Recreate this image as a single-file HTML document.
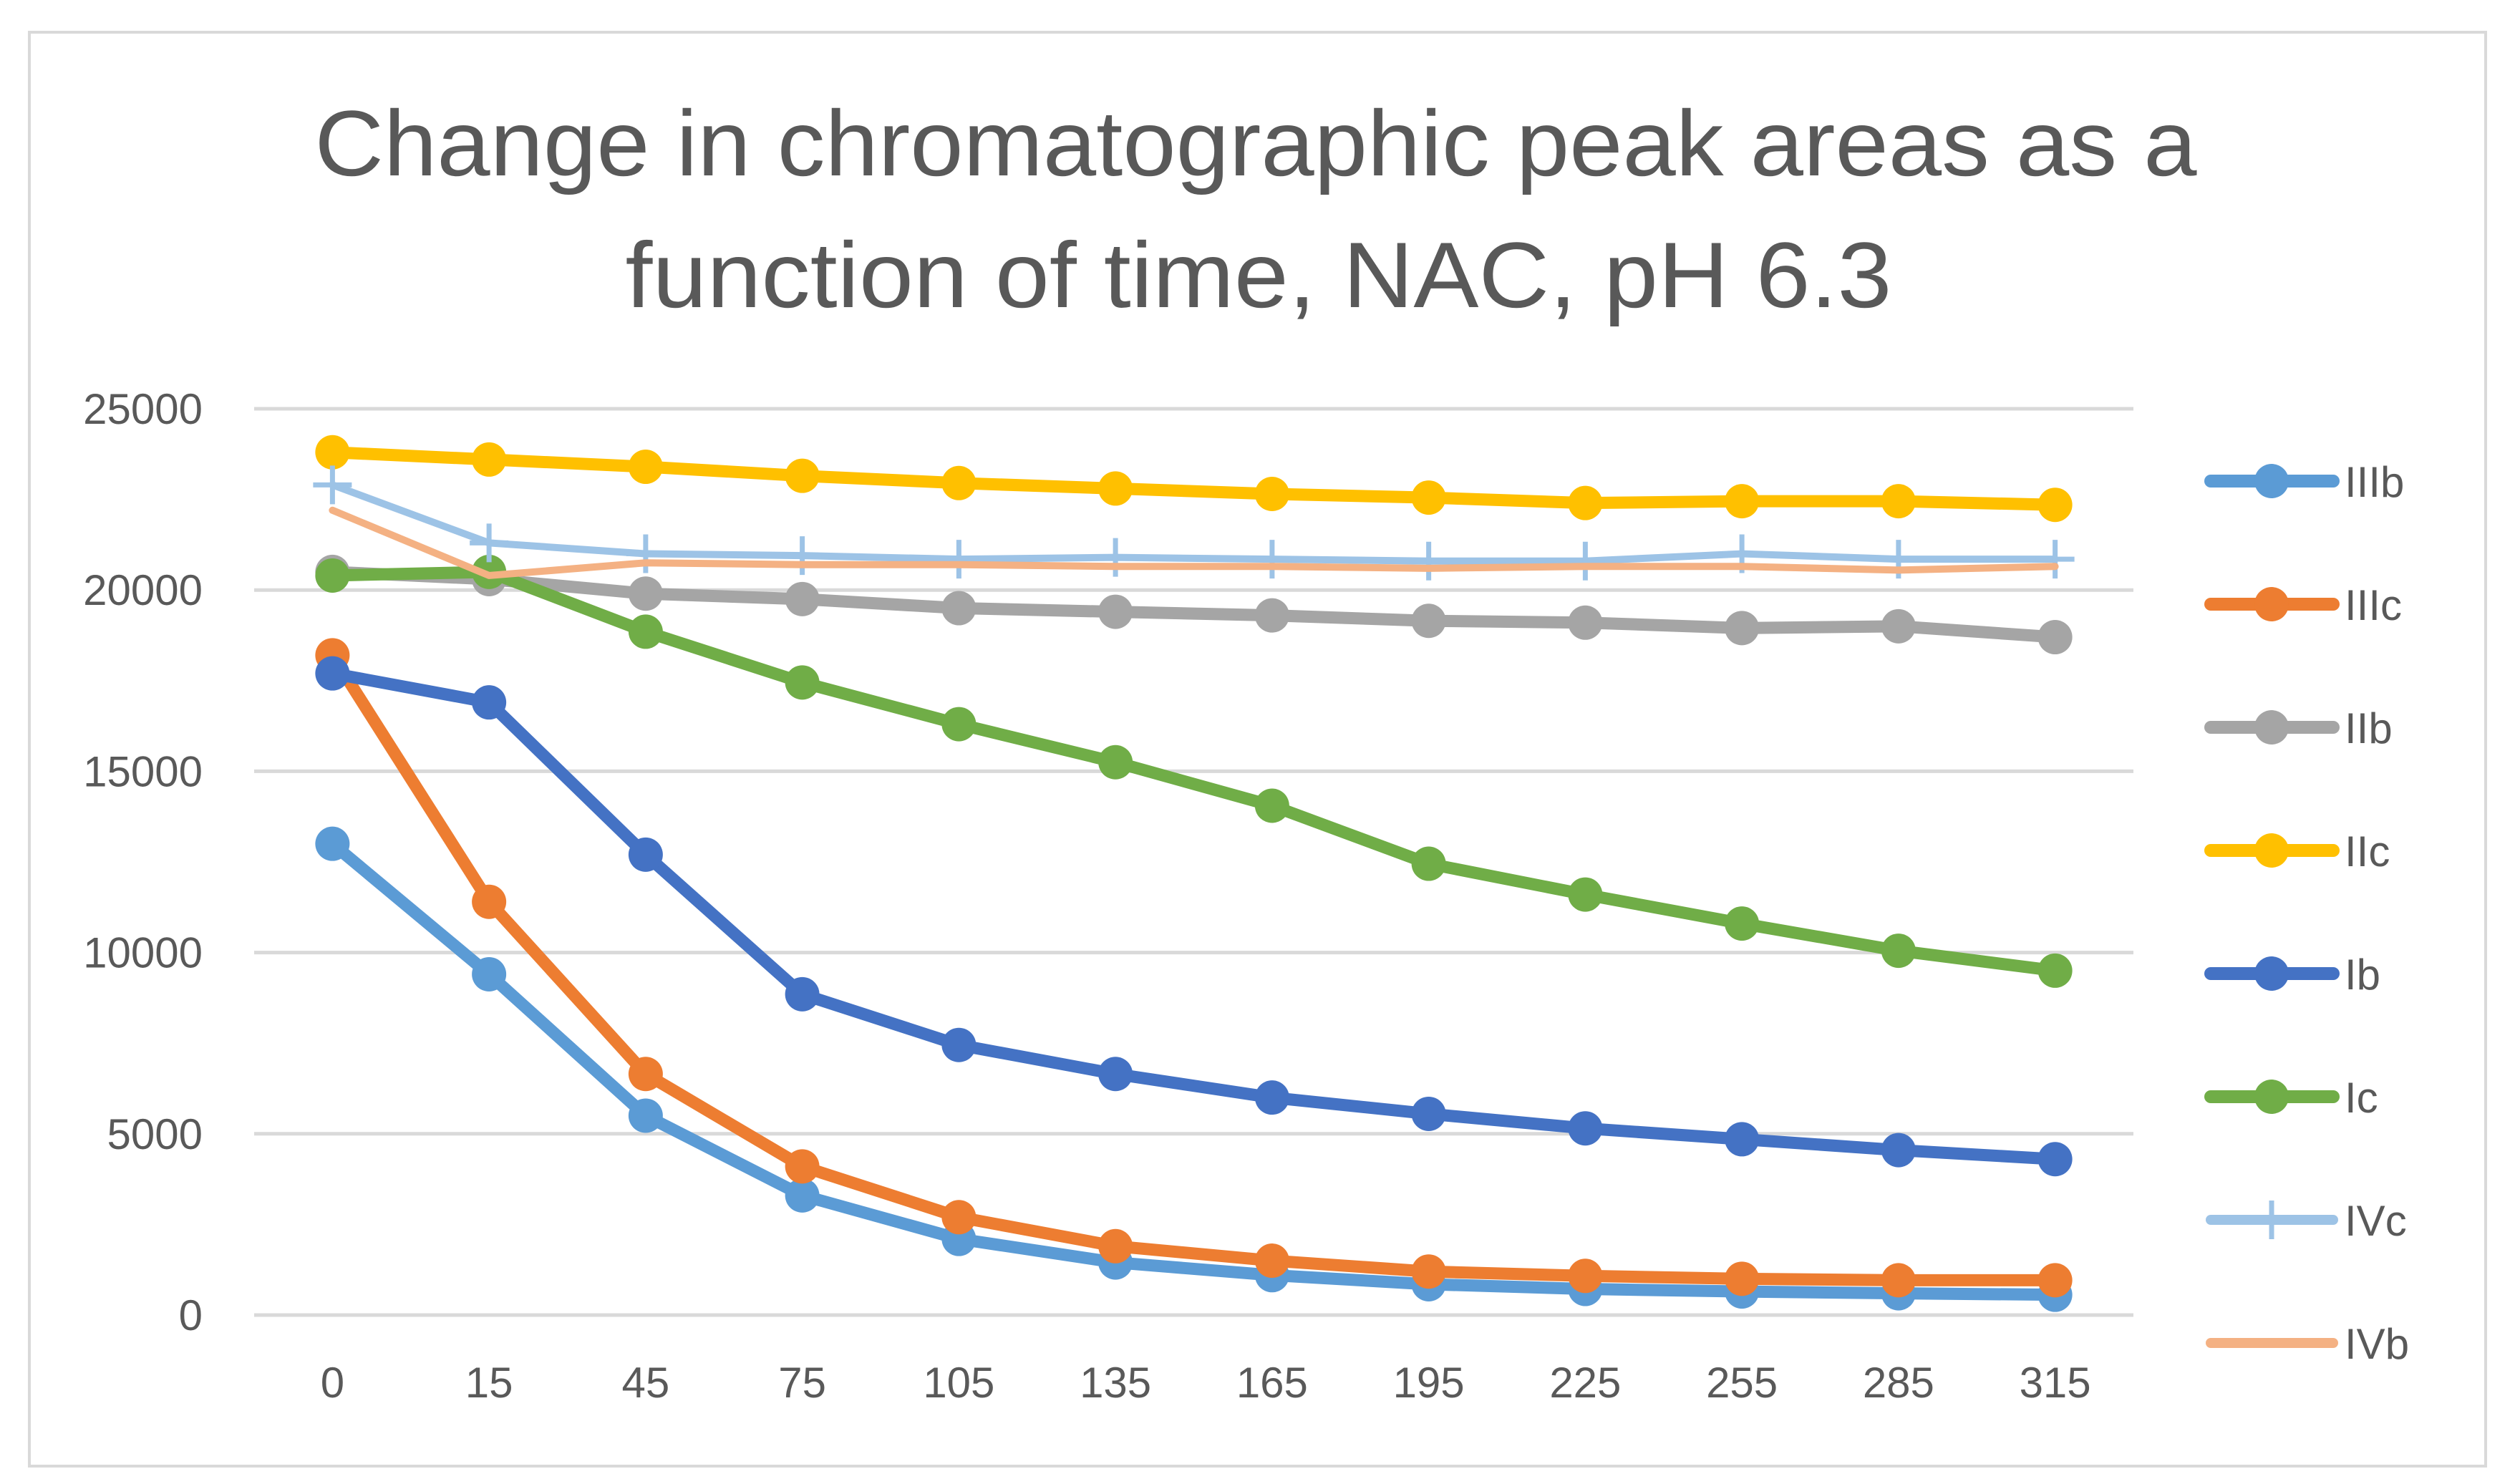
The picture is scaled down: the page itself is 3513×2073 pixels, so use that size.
<!DOCTYPE html>
<html><head><meta charset="utf-8"><style>
html,body{margin:0;padding:0;background:#fff;}
svg{display:block;font-family:"Liberation Sans",sans-serif;}
</style></head><body>
<svg id="chart" width="3513" height="2073" viewBox="0 0 3513 2073" xmlns="http://www.w3.org/2000/svg">
<rect x="0" y="0" width="3513" height="2073" fill="#fff"/>
<rect x="41" y="45" width="3431" height="2003" fill="none" stroke="#d9d9d9" stroke-width="4"/>
<text x="1754" y="245" text-anchor="middle" font-size="130" fill="#595959" textLength="2629" lengthAdjust="spacingAndGlyphs">Change in chromatographic peak areas as a</text>
<text x="1758" y="429" text-anchor="middle" font-size="130" fill="#595959" textLength="1769" lengthAdjust="spacingAndGlyphs">function of time, NAC, pH 6.3</text>
<g id="grid"></g><g id="series"></g><g id="axes"></g><g id="legend"></g>
</svg>
<script>
const categories = [0,15,45,75,105,135,165,195,225,255,285,315];
const yTicks = [0,5000,10000,15000,20000,25000];
const seriesNames = ["IIIb","IIIc","IIb","IIc","Ib","Ic","IVc","IVb"];
const IIIb = [13000,9400,5500,3300,2100,1450,1100,850,720,650,600,560];
const IIIc = [18200,11400,6650,4100,2700,1900,1500,1200,1080,1000,960,960];
const IIb = [20500,20300,19900,19750,19500,19400,19300,19150,19100,18950,19000,18700];
const IIc = [23800,23600,23400,23150,22950,22800,22650,22550,22400,22450,22450,22350];
const Ib = [17700,16900,12700,8850,7450,6650,6000,5550,5150,4850,4550,4300];
const Ic = [20400,20500,18850,17450,16300,15250,14050,12450,11600,10800,10050,9500];
const IVc = [22900,21300,21000,20950,20850,20900,20850,20800,20800,21000,20850,20850];
const IVb = [22200,20400,20750,20700,20700,20650,20650,20600,20650,20650,20550,20650];
const seriesValues = [IIIb,IIIc,IIb,IIc,Ib,Ic,IVc,IVb];
const colors = ["#5b9bd5","#ed7d31","#a5a5a5","#ffc000","#4472c4","#70ad47","#9dc3e6","#f4b183"];
const markerTypes = ["circle","circle","circle","circle","circle","circle","plus","none"];

const NS="http://www.w3.org/2000/svg";
const plotL=355, plotR=2980, yTop=571, yBot=1837, yMax=25000;
const band=(plotR-plotL)/categories.length;
function xPos(i){return plotL+band*(i+0.5);}
function yPos(v){return yBot-(v/yMax)*(yBot-yTop);}
function mk(tag,attrs,parent){const e=document.createElementNS(NS,tag);for(const k in attrs)e.setAttribute(k,attrs[k]);parent.appendChild(e);return e;}

const grid=document.getElementById('grid'), axes=document.getElementById('axes');
yTicks.forEach(t=>{
  const l=mk('line',{x1:plotL,x2:plotR,y1:yPos(t),y2:yPos(t),stroke:'#d9d9d9','stroke-width':5},grid);
  
  
  const tx=mk('text',{x:283,y:yPos(t)+21,'text-anchor':'end','font-size':60,fill:'#595959'},axes);
  tx.textContent=t;
  
  
});
categories.forEach((c,i)=>{
  const tx=mk('text',{x:xPos(i),y:1952,'text-anchor':'middle','font-size':60,fill:'#595959'},axes);
  tx.textContent=c;
  
  
});

function drawMarker(type,cx,cy,color,parent){
  if(type==='circle'){
    const m=mk('circle',{cx:cx,cy:cy,r:24,fill:color},parent);
    
    
  } else if(type==='plus'){
    const g=mk('g',{stroke:color,'stroke-width':7},parent);
    
    
    mk('line',{x1:cx-27,x2:cx+27,y1:cy,y2:cy},g);
    mk('line',{x1:cx,x2:cx,y1:cy-27,y2:cy+27},g);
  }
}

const sg=document.getElementById('series');
seriesValues.forEach((vals,s)=>{
  const g=mk('g',{},sg);
  
  
  const pts=vals.map((v,i)=>xPos(i)+','+yPos(v)).join(' ');
  const w=(markerTypes[s]==='circle')?17:10;
  const pl=mk('polyline',{points:pts,fill:'none',stroke:colors[s],'stroke-width':w,'stroke-linejoin':'round','stroke-linecap':'round'},g);
  
  
  vals.forEach((v,i)=>drawMarker(markerTypes[s],xPos(i),yPos(v),colors[s],g));
});

const lg=document.getElementById('legend');
seriesNames.forEach((n,s)=>{
  const y=672+s*172;
  const g=mk('g',{},lg);
  
  
  mk('line',{x1:3088,x2:3259,y1:y,y2:y,stroke:colors[s],'stroke-width':(markerTypes[s]==='circle')?18:14,'stroke-linecap':'round'},g);
  drawMarker(markerTypes[s],3173,y,colors[s],g);
  const t=mk('text',{x:3275,y:y+22,'font-size':60,fill:'#595959'},g);
  t.textContent=n;
});
</script>
</body></html>
